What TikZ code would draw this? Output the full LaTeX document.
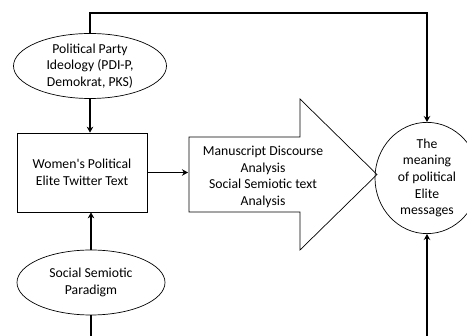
\documentclass[tikz,border=0pt]{standalone}
\usepackage{fontspec}
\setmainfont{Carlito}
\usetikzlibrary{shapes.geometric,arrows.meta,positioning,calc}

\begin{document}
\begin{tikzpicture}[x=1pt,y=-1pt,font=\fontsize{13.7}{16.7}\selectfont,
  forme/.style={draw,line width=0.7pt},
  ovale/.style={forme,ellipse,inner sep=0pt,align=center},
  fleche/.style={line width=1.6pt,-{Stealth[length=6pt,width=6.5pt]}},
  trait/.style={line width=1.6pt}]
  \useasboundingbox (0,0) rectangle (467,336);
  % noeuds
  \node[ovale,minimum width=153,minimum height=65] (ideo) at (90,66)
    {Political Party\\Ideology (PDI-P,\\Demokrat, PKS)};
  \node[forme,minimum width=130,minimum height=79,align=center] (texte) at (82,172.5)
    {Women\textquotesingle s Political\\Elite Twitter Text};
  \node[ovale,minimum width=148,minimum height=65] (socio) at (91,282.5)
    {Social Semiotic\\Paradigm};
  \node[ovale,minimum width=104,minimum height=106] (sens) at (427,178)
    {The\\meaning\\of political\\Elite\\messages};
  % grande fleche d'analyse
  \draw[forme] (189,137) -- (300,137) -- (300,99) -- (377,174.5)
    -- (300,250) -- (300,212) -- (189,212) -- cycle;
  \node[align=center] (analyse) at (263,177)
    {Manuscript Discourse\\Analysis\\Social Semiotic text\\Analysis};
  \coordinate (ana-g) at (188,172.5);
  % liaisons
  \coordinate (haut) at (427,13);
  \coordinate (bas-g) at (91,345);
  \coordinate (bas-d) at (427,345);
  \draw[fleche] (ideo.north) |- (haut) -- (sens.north);
  \draw[fleche] (ideo.south) -- (ideo.south |- texte.north);
  \draw[fleche] (socio.north) -- (socio.north |- texte.south);
  \draw[fleche] (texte.east) -- (ana-g);
  \draw[trait] (socio.south) -- (bas-g);
  \draw[fleche] (bas-d) -- (sens.south);
\end{tikzpicture}
\end{document}
